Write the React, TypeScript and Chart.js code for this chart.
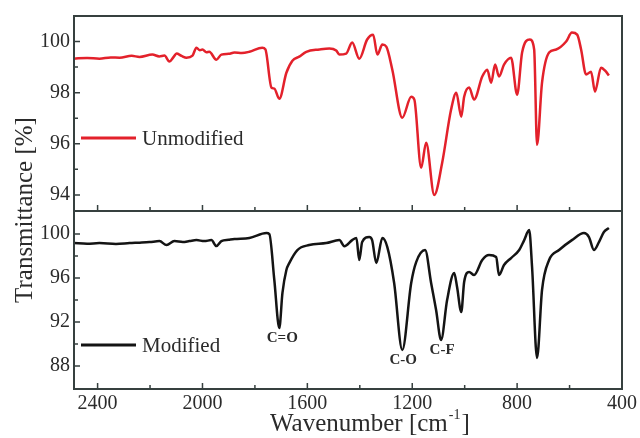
import { useEffect, useRef } from 'react';
import { Chart, registerables } from 'chart.js';

Chart.register(...registerables);

// ---- Data ----
const unmodifiedWavenumber = [
  2490, 2440, 2393, 2350, 2316, 2270, 2240, 2191, 2165, 2145, 2126, 2110, 2099, 2080, 2061, 2038, 2023,
  2010, 2000, 1985, 1974, 1947, 1928, 1900, 1878, 1850, 1821, 1772, 1760, 1737, 1726,
  1707, 1680, 1657, 1631, 1604, 1554, 1516, 1490, 1478, 1452,
  1429, 1402, 1372, 1349, 1333, 1314, 1299, 1276, 1238, 1204,
  1192, 1166, 1147, 1116, 1086, 1052, 1032, 1013, 1002, 983,
  964, 933, 914, 899, 884, 869, 850, 823, 800, 781,
  751, 735, 724, 705, 678, 651, 613, 591, 571, 556,
  537, 518, 503, 480, 461, 450,
];
const unmodifiedTransmittance = [
  99.33, 99.36, 99.33, 99.38, 99.37, 99.44, 99.40, 99.49, 99.42, 99.45, 99.22, 99.40, 99.53, 99.44, 99.37, 99.45, 99.76,
  99.66, 99.69, 99.58, 99.6, 99.29, 99.49, 99.52, 99.57, 99.55, 99.6, 99.76, 99.69, 98.2, 98.16,
  97.76, 98.78, 99.25, 99.41, 99.6, 99.69, 99.73, 99.65, 99.49, 99.53,
  99.96, 99.33, 100.08, 100.27, 99.49, 99.88, 99.8, 98.9, 97.02, 97.84,
  97.73, 95.06, 96.04, 94.0, 95.25, 97.33, 98.0, 97.06, 97.84, 98.2,
  97.73, 98.63, 98.9, 98.39, 99.1, 98.63, 99.1, 99.37, 97.92, 99.57,
  100.08, 99.69, 95.96, 98.39, 99.57, 99.69, 100.0, 100.35, 100.27, 99.69,
  98.71, 98.82, 98.04, 98.98, 98.82, 98.67,
];
const modifiedWavenumber = [
  2490, 2440, 2393, 2330, 2278, 2240, 2202, 2164, 2137, 2107, 2075, 2050, 2023, 1993,
  1966, 1947, 1928, 1900, 1878, 1821, 1756, 1745, 1726, 1707, 1695,
  1680, 1669, 1638, 1593, 1528, 1478, 1459, 1429, 1413, 1402,
  1391, 1364, 1353, 1337, 1314, 1295, 1269, 1238, 1204, 1185,
  1151, 1128, 1109, 1090, 1067, 1040, 1029, 1013, 1002, 983,
  964, 933, 907, 880, 869, 850, 823, 792, 773, 754,
  743, 724, 705, 678, 640, 591, 545, 526, 507, 488,
  469, 450,
];
const modifiedTransmittance = [
  99.18, 99.12, 99.18, 99.1, 99.18, 99.22, 99.27, 99.36, 99.0, 99.36, 99.28, 99.36, 99.45, 99.36,
  99.45, 98.91, 99.36, 99.48, 99.55, 99.64, 100.09, 100.0, 95.82, 91.45, 94.64,
  96.73, 97.36, 98.55, 99.0, 99.18, 99.45, 98.9, 99.45, 99.64, 97.64,
  99.27, 99.73, 99.45, 97.36, 99.64, 98.82, 95.55, 89.45, 95.55, 97.45,
  98.55, 95.55, 93.09, 90.36, 94.0, 96.45, 95.18, 92.91, 95.64, 96.55,
  96.27, 97.64, 98.09, 97.91, 96.27, 97.18, 97.82, 98.55, 99.45, 100.36,
  97.0, 88.73, 94.91, 97.64, 98.55, 99.45, 100.09, 99.73, 98.55, 99.27,
  100.18, 100.55,
];

const xTickValues = [2400, 2000, 1600, 1200, 800, 400];
const xMinorTickValues = [2400, 2200, 2000, 1800, 1600, 1400, 1200, 1000, 800, 600];
const upperTickValues = [94, 96, 98, 100];
const upperMinorTickValues = [94, 95, 96, 97, 98, 99, 100, 101];
const lowerTickValues = [88, 92, 96, 100];
const lowerMinorTickValues = [88, 90, 92, 94, 96, 98, 100];
const seriesNames = ['Unmodified', 'Modified'];
const peakLabels = ['C=O', 'C-O', 'C-F'];
const peakWavenumbers = [1707, 1238, 1090];
const peakValues = [91.45, 89.45, 90.36];

const SERIF = '"Liberation Serif", "Times New Roman", serif';
const FRAME = '#36403f';
const TEXT = '#2b2b2b';
const RED = '#e3212b';
const BLACK = '#141414';

const decorPlugin = {
  id: 'decor',
  afterDraw(chart: any) {
    const { ctx, chartArea } = chart;
    const x = chart.scales.x;
    const yTop = chart.scales.yTop;
    const yBot = chart.scales.yBot;
    const { left, right, top, bottom } = chartArea;
    const divY = yTop.bottom;
    ctx.save();

    // ticks (inward)
    ctx.strokeStyle = FRAME;
    ctx.lineWidth = 1.5;
    ctx.beginPath();
    for (const v of xMinorTickValues) {
      const px = x.getPixelForValue(v);
      const len = v % 400 === 0 ? 6 : 4;
      ctx.moveTo(px, bottom);
      ctx.lineTo(px, bottom - len);
      ctx.moveTo(px, divY);
      ctx.lineTo(px, divY - len);
    }
    for (const v of upperMinorTickValues) {
      const py = yTop.getPixelForValue(v);
      if (py < top + 1 || py > divY - 1) continue;
      const len = v % 2 === 0 ? 6 : 4;
      ctx.moveTo(left, py);
      ctx.lineTo(left + len, py);
    }
    for (const v of lowerMinorTickValues) {
      const py = yBot.getPixelForValue(v);
      if (py < divY + 1 || py > bottom - 1) continue;
      const len = v % 4 === 0 ? 6 : 4;
      ctx.moveTo(left, py);
      ctx.lineTo(left + len, py);
    }
    ctx.stroke();

    // frame + divider
    ctx.lineWidth = 2;
    ctx.strokeRect(left, top, right - left, bottom - top);
    ctx.beginPath();
    ctx.moveTo(left, divY);
    ctx.lineTo(right, divY);
    ctx.stroke();

    // legends
    const drawLegend = (label: string, color: string, py: number) => {
      ctx.strokeStyle = color;
      ctx.lineWidth = 3;
      ctx.beginPath();
      ctx.moveTo(left + 7, py);
      ctx.lineTo(left + 62, py);
      ctx.stroke();
      ctx.fillStyle = TEXT;
      ctx.font = `21px ${SERIF}`;
      ctx.textAlign = 'left';
      ctx.textBaseline = 'middle';
      ctx.fillText(label, left + 68, py + 1);
    };
    drawLegend(seriesNames[0], RED, top + 122);
    drawLegend(seriesNames[1], BLACK, divY + 134);

    // peak labels
    ctx.fillStyle = TEXT;
    ctx.font = `bold 15px ${SERIF}`;
    ctx.textAlign = 'center';
    ctx.textBaseline = 'top';
    peakLabels.forEach((lab, i) => {
      const px = x.getPixelForValue(peakWavenumbers[i]);
      const py = yBot.getPixelForValue(peakValues[i]);
      ctx.fillText(lab, px + (i === 0 ? 3 : 1), py + 3);
    });

    // y title
    ctx.save();
    ctx.translate(32, 210);
    ctx.rotate(-Math.PI / 2);
    ctx.font = `25px ${SERIF}`;
    ctx.textAlign = 'center';
    ctx.textBaseline = 'alphabetic';
    ctx.fillStyle = TEXT;
    ctx.fillText('Transmittance [%]', 0, 0);
    ctx.restore();

    // x title
    ctx.font = `25px ${SERIF}`;
    ctx.textAlign = 'left';
    ctx.textBaseline = 'alphabetic';
    ctx.fillStyle = TEXT;
    const base = 'Wavenumber [cm';
    const xStart = 270;
    const baseY = 431;
    ctx.fillText(base, xStart, baseY);
    let cx = xStart + ctx.measureText(base).width;
    ctx.font = `14px ${SERIF}`;
    ctx.fillText('-1', cx + 1, baseY - 12);
    cx += ctx.measureText('-1').width + 2;
    ctx.font = `25px ${SERIF}`;
    ctx.fillText(']', cx, baseY);

    ctx.restore();
  },
};

export default function App() {
  const canvasRef = useRef<HTMLCanvasElement | null>(null);

  useEffect(() => {
    if (!canvasRef.current) return;
    const upper = unmodifiedWavenumber.map((w, i) => ({ x: w, y: unmodifiedTransmittance[i] }));
    const lower = modifiedWavenumber.map((w, i) => ({ x: w, y: modifiedTransmittance[i] }));
    const tickFont = { family: SERIF, size: 20 };
    const plain = (v: any) => String(v);

    const chart = new Chart(canvasRef.current, {
      type: 'line',
      data: {
        datasets: [
          {
            label: seriesNames[0],
            data: upper,
            xAxisID: 'x',
            yAxisID: 'yTop',
            borderColor: RED,
            borderWidth: 2.5,
            pointRadius: 0,
            cubicInterpolationMode: 'monotone',
            fill: false,
          },
          {
            label: seriesNames[1],
            data: lower,
            xAxisID: 'x',
            yAxisID: 'yBot',
            borderColor: BLACK,
            borderWidth: 2.5,
            pointRadius: 0,
            cubicInterpolationMode: 'monotone',
            fill: false,
          },
        ],
      },
      options: {
        animation: false,
        responsive: false,
        devicePixelRatio: 1,
        layout: { padding: { left: 34, right: 17, top: 16, bottom: 0 } },
        plugins: { legend: { display: false }, tooltip: { enabled: false } },
        scales: {
          x: {
            type: 'linear',
            reverse: true,
            min: 400,
            max: 2490,
            grid: { display: false, drawTicks: false },
            border: { display: false },
            afterBuildTicks: (s: any) => {
              s.ticks = xTickValues.map((v) => ({ value: v }));
            },
            afterFit: (s: any) => {
              s.height = 49;
            },
            ticks: { font: tickFont, color: TEXT, padding: 3, maxRotation: 0, autoSkip: false, callback: plain },
          },
          yTop: {
            type: 'linear',
            position: 'left',
            stack: 'panels',
            stackWeight: 195,
            weight: 2,
            min: 93.37,
            max: 101,
            grid: { display: false, drawTicks: false },
            border: { display: false },
            afterBuildTicks: (s: any) => {
              s.ticks = upperTickValues.map((v) => ({ value: v }));
            },
            afterFit: (s: any) => {
              s.width = 40;
            },
            ticks: { font: tickFont, color: TEXT, padding: 4, callback: plain },
          },
          yBot: {
            type: 'linear',
            position: 'left',
            stack: 'panels',
            stackWeight: 178,
            weight: 1,
            min: 85.9,
            max: 102.1,
            grid: { display: false, drawTicks: false },
            border: { display: false },
            afterBuildTicks: (s: any) => {
              s.ticks = lowerTickValues.map((v) => ({ value: v }));
            },
            afterFit: (s: any) => {
              s.width = 40;
            },
            ticks: { font: tickFont, color: TEXT, padding: 4, callback: plain },
          },
        },
      } as any,
      plugins: [decorPlugin],
    });

    return () => chart.destroy();
  }, []);

  return (
    <div style={{ position: 'fixed', left: 0, top: 0, width: 640, height: 438, background: '#fff' }}>
      <canvas ref={canvasRef} width={640} height={438} style={{ display: 'block' }} />
    </div>
  );
}
